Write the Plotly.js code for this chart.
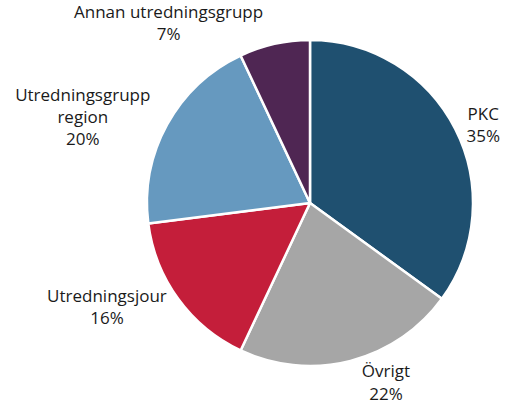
<!DOCTYPE html>
<html><head><meta charset="utf-8">
<script src="https://cdn.plot.ly/plotly-3.0.1.min.js"></script>
<style>html,body{margin:0;padding:0;background:#fff}</style>
</head><body><div id="chart" style="width:505px;height:407px"></div>
<script>
const categories = ["PKC", "Övrigt", "Utredningsjour", "Utredningsgrupp<br>region", "Annan utredningsgrupp"];
const shares = [35, 22, 16, 20, 7];
const colors = ["#1f5070", "#a6a6a6", "#c41e3a", "#6699bf", "#4f2653"];

Plotly.newPlot("chart", [{
  type: "pie",
  labels: categories,
  values: shares,
  sort: false,
  direction: "clockwise",
  rotation: 0,
  marker: {colors: colors, line: {color: "#ffffff", width: 2.5}},
  textposition: "outside",
  texttemplate: "%{label}<br>%{value}%",
  textfont: {family: "Open Sans", size: 17, color: "#1a1a1a"},
  hoverinfo: "none",
  domain: {x: [147/505, 473/505], y: [1 - 366/407, 1 - 40/407]}
}], {
  width: 505, height: 407,
  margin: {l: 0, r: 0, t: 0, b: 0},
  showlegend: false,
  paper_bgcolor: "#ffffff",
  font: {family: "Open Sans"}
}, {displayModeBar: false, staticPlot: true});
</script></body></html>
